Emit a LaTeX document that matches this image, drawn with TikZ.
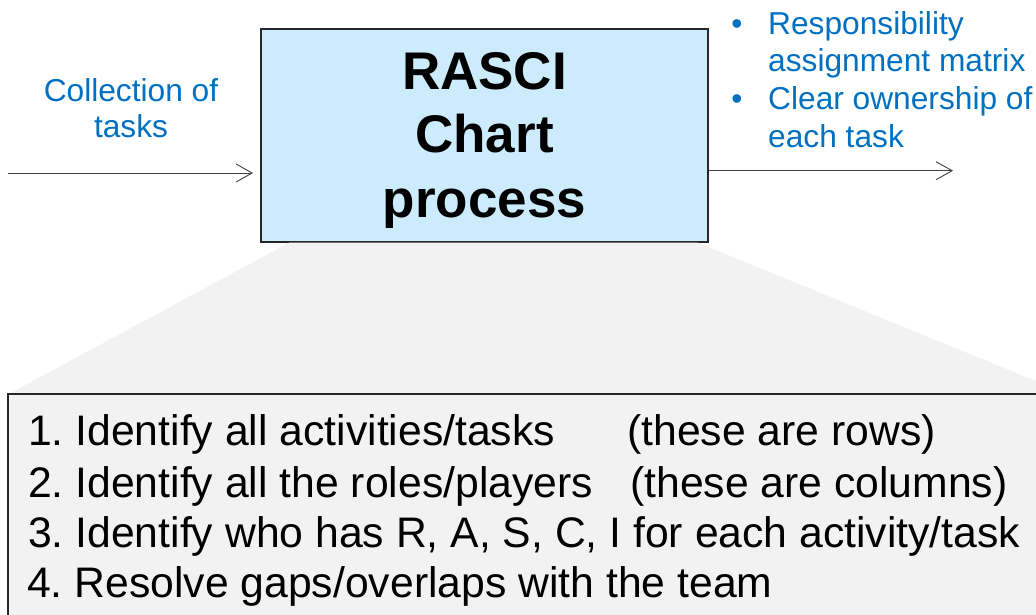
\documentclass[tikz,border=0pt]{standalone}
\usepackage{fontspec}
\setmainfont{Liberation Sans}
\usetikzlibrary{arrows.meta}
\definecolor{boxblue}{RGB}{204,235,252}
\definecolor{txtblue}{RGB}{0,112,192}
\definecolor{panelgray}{RGB}{242,242,242}
\frenchspacing
\begin{document}
\begin{tikzpicture}[x=1pt,y=-1pt,
  bluetext/.style={text=txtblue, font=\fontsize{31.7}{37.7}\selectfont, inner sep=0pt, anchor=base},
  bluebullet/.style={bluetext, anchor=base},
  titletext/.style={font=\fontsize{53}{63.5}\selectfont\bfseries, inner sep=0pt, anchor=base},
  flow/.style={draw=black!75, line width=0.9pt,
    -{Straight Barb[length=16pt,width=18pt,line width=0.9pt]}},
  listline/.style={anchor=base west, inner sep=0pt, font=\fontsize{42.7}{50}\selectfont}
]
\useasboundingbox (0,0) rectangle (1036,615);

% process box
\node[draw=black!85, line width=1.2pt, fill=boxblue, minimum width=447pt,
      minimum height=213pt, inner sep=0pt] (proc) at (484.5,135.5) {};

\begin{scope}
  \clip (0,0) rectangle (1036,615);
  % zoom-out funnel from the box to the step list
  \fill[panelgray] ([xshift=29pt]proc.south west) -- ([xshift=-11pt]proc.south east)
      -- (1070,395) -- (7,395) -- cycle;
  % step list panel
  \node[draw=black!85, line width=2pt, fill=panelgray, anchor=north west,
        minimum width=1100pt, minimum height=300pt, inner sep=0pt] (panel) at (7,393) {};
\end{scope}

% title inside the box
\node[titletext] (t1) at (484.5,90) {RASCI};
\node[titletext] (t2) at (484.5,153) {Chart};
\node[titletext] (t3) at (484.5,217) {process};

% input
\node[bluetext] (in1) at (131,102) {Collection of};
\node[bluetext] (in2) at (131,138) {tasks};
\coordinate (inStart) at (8,173);
\coordinate (inEnd) at (253,173);
\draw[flow] (inStart) -- (inEnd);

% outputs
\node[bluebullet] (b1) at (737,35) {•};
\node[bluebullet] (b2) at (737,110) {•};
\node[bluetext, anchor=base west] (o1) at (768,35) {Responsibility};
\node[bluetext, anchor=base west] (o2) at (768,72) {assignment matrix};
\node[bluetext, anchor=base west] (o3) at (768,110) {Clear ownership of};
\node[bluetext, anchor=base west] (o4) at (768,148) {each task};
\coordinate (outStart) at (proc.east |- 0,170.7);
\coordinate (outEnd) at (953,170.7);
\draw[flow] (outStart) -- (outEnd);

% steps
\node[listline] (s1) at (28,445) {1. Identify all activities/tasks};
\node[listline] (p1) at (627,445) {(these are rows)};
\node[listline] (s2) at (28,497) {2. Identify all the roles/players};
\node[listline] (p2) at (630,497) {(these are columns)};
\node[listline] (s3) at (28,547) {3. Identify who has R, A, S, C, I for each activity/task};
\node[listline] (s4) at (27,597) {4. Resolve gaps/overlaps with the team};
\end{tikzpicture}
\end{document}
